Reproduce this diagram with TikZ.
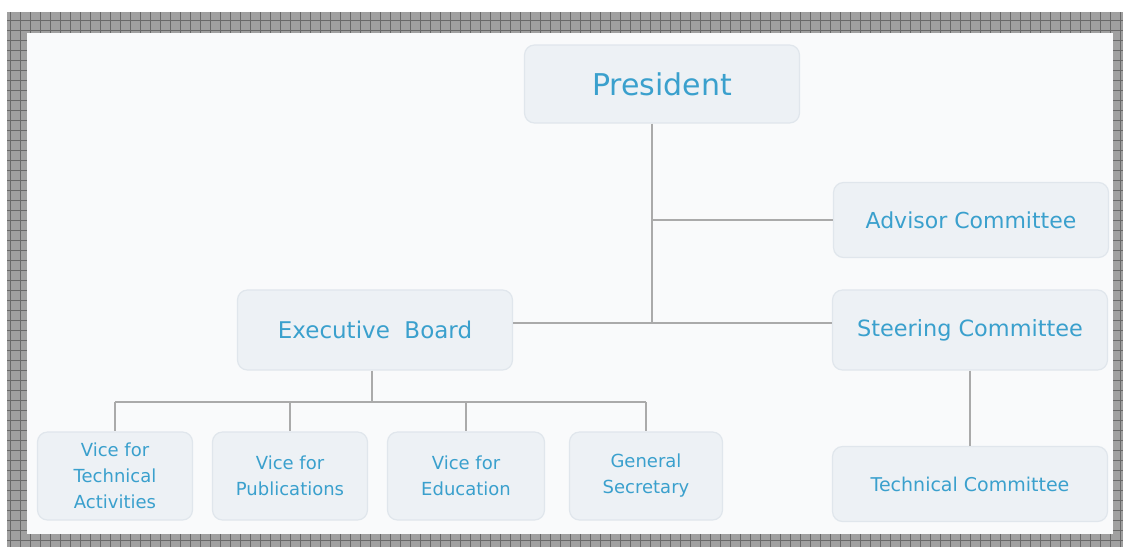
\documentclass[tikz,border=0pt]{standalone}
\usepackage{fontspec}
\setmainfont{DejaVu Sans}
\definecolor{boxfill}{RGB}{237,241,245}
\definecolor{boxline}{RGB}{224,230,236}
\definecolor{textblue}{RGB}{58,160,205}
\definecolor{linkgray}{RGB}{170,170,170}
\definecolor{paper}{RGB}{249,250,251}
\definecolor{framegray}{RGB}{160,160,160}
\definecolor{framegrid}{RGB}{105,105,105}
\tikzset{
    unit/.style={draw=boxline, fill=boxfill, rounded corners=5pt, text=textblue,
        align=center, inner sep=0pt, line width=0.6pt},
    bigunit/.style={unit, minimum width=137.5pt, minimum height=39pt},
    smallunit/.style={unit, minimum width=77.5pt, minimum height=44pt,
        font=\fontsize{9}{13}\selectfont},
    link/.style={draw=linkgray, line width=1pt},
}
\begin{document}
\begin{tikzpicture}[x=0.5pt, y=-0.5pt]
    \useasboundingbox (0, 0) rectangle (1123, 547);
    \fill[framegray] (7, 12) rectangle (1123, 547);
    \draw[step=5pt, framegrid, line width=0.5pt] (7, 12) grid (1123, 547);
    \fill[paper] (27, 33) rectangle (1113, 534);

    \node[bigunit, font=\fontsize{15}{18}\selectfont] (president) at (662, 84) {President};
    \node[bigunit, minimum height=37.5pt, font=\fontsize{11}{13}\selectfont] (advisor) at (971, 220) {Advisor Committee};
    \node[bigunit, minimum height=40pt, font=\fontsize{11.2}{13}\selectfont] (steering) at (970, 330) {Steering Committee};
    \node[bigunit, minimum height=37.5pt, font=\fontsize{9.5}{12}\selectfont] (techcom) at (970, 484) {Technical Committee};
    \node[bigunit, minimum height=40pt, font=\fontsize{11.5}{13}\selectfont] (board) at (375, 330) {Executive\ \ Board};

    \node[smallunit] (vtech) at (115, 476) {Vice for\\Technical\\Activities};
    \node[smallunit] (vpub) at (290, 476) {Vice for\\Publications};
    \node[smallunit, minimum width=78.5pt] (vedu) at (466, 476) {Vice for\\Education};
    \node[smallunit, minimum width=76.5pt] (gensec) at (646, 476) {General\\Secretary};

    \coordinate (hub) at (652, 323);
    \coordinate (tap) at (652, 220);
    \coordinate (bus) at (372, 402);

    \draw[link] (president.south -| hub) -- (hub);
    \draw[link] (tap) -- (advisor.west);
    \draw[link] (board.east |- hub) -- (steering.west |- hub);
    \draw[link] (steering.south) -- (techcom.north);

    \draw[link] (board.south -| bus) -- (bus);
    \draw[link] (vtech.north |- bus) -- (gensec.north |- bus);
    \draw[link] (vtech.north |- bus) -- (vtech.north);
    \draw[link] (vpub.north |- bus) -- (vpub.north);
    \draw[link] (vedu.north |- bus) -- (vedu.north);
    \draw[link] (gensec.north |- bus) -- (gensec.north);
\end{tikzpicture}
\end{document}
